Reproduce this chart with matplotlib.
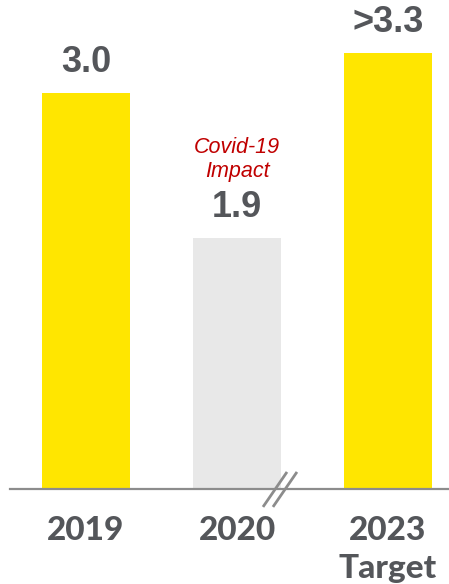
import matplotlib.pyplot as plt

years = ["2019", "2020", "2023\nTarget"]
values = [3.0, 1.9, 3.3]
value_labels = ["3.0", "1.9", ">3.3"]
bar_colors = ["#FFE600", "#E8E8E8", "#FFE600"]
note = "Covid-19\nImpact"

TEXT = "#54565A"

fig = plt.figure(figsize=(4.49, 5.84), dpi=100)
ax = fig.add_axes([0, 0, 1, 1])
ax.set_xlim(-0.570, 2.404)
ax.set_ylim(-0.72, 3.705)
ax.axis("off")

x = list(range(len(years)))
ax.bar(x, values, width=0.583, color=bar_colors, zorder=2)
ax.axhline(0, xmin=0.022, xmax=1, color="#8C8C8C", lw=1.6, zorder=3)

for xi, v, lab in zip(x, values, value_labels):
    ax.text(xi, v + 0.16, lab, ha="center", va="baseline", fontsize=26,
            fontweight="bold", family="Liberation Sans", color=TEXT)

for xi, yr in zip(x, years):
    parts = yr.split("\n")
    ax.text(xi, -0.386, parts[0], ha="center", va="baseline", fontsize=24,
            fontweight="black", family="Lato", color=TEXT)
    if len(parts) > 1:
        ax.text(xi, -0.674, parts[1], ha="center", va="baseline", fontsize=24,
                fontweight="black", family="Lato", color=TEXT)

l1, l2 = note.split("\n")
ax.text(1, 2.545, l1, ha="center", va="baseline", fontsize=15.5, style="italic",
        family="Liberation Sans", color="#C00000")
ax.text(1, 2.364, l2, ha="center", va="baseline", fontsize=15.5, style="italic",
        family="Liberation Sans", color="#C00000")

# axis break marks
for dx in (0, 0.066):
    ax.plot([1.172 + dx, 1.331 + dx], [-0.136, 0.129], color="#8C8C8C",
            lw=2, clip_on=False, zorder=4, solid_capstyle="butt")

fig.savefig("out.png", dpi=100, facecolor="white")
